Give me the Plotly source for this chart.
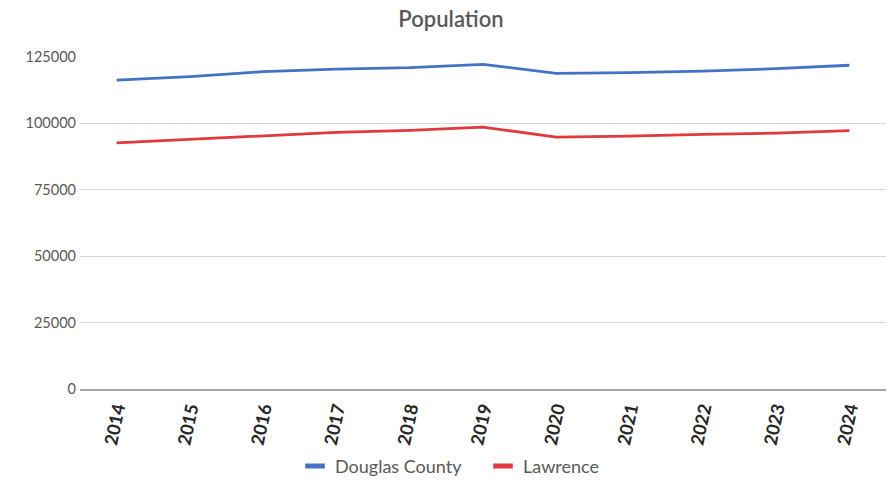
import plotly.graph_objects as go

years = ["2014", "2015", "2016", "2017", "2018", "2019", "2020", "2021", "2022", "2023", "2024"]
douglas_county = [116300, 117600, 119500, 120400, 121000, 122250, 118850, 119100, 119700, 120600, 121900]
lawrence = [92700, 94000, 95500, 96600, 97400, 98600, 94850, 95200, 95850, 96350, 97250]
y_ticks = [0, 25000, 50000, 75000, 100000, 125000]

series = [("Douglas County", douglas_county, "#4472C4"),
          ("Lawrence", lawrence, "#E0393E")]

font_family = "Lato, 'Open Sans', sans-serif"
text_grey = "#595959"

fig = go.Figure()
for name, values, color in series:
    fig.add_trace(go.Scatter(
        x=years, y=values, name=name, mode="lines",
        line=dict(color=color, width=2.8), showlegend=False,
    ))
# short thick legend keys
for name, values, color in series:
    fig.add_trace(go.Scatter(
        x=[None], y=[None], name=name, mode="markers",
        marker=dict(symbol="line-ew", size=14, color=color,
                    line=dict(color=color, width=5)),
        showlegend=True,
    ))

fig.update_layout(
    width=893, height=483,
    margin=dict(l=80, r=7, t=57, b=94, autoexpand=False),
    paper_bgcolor="white", plot_bgcolor="white",
    font=dict(family=font_family, color=text_grey, size=14),
    title=dict(text="Population", x=0.505, xanchor="center", y=0.96, yanchor="middle",
               font=dict(size=22, color=text_grey, family=font_family, weight=600)),
    showlegend=True,
    legend=dict(orientation="h", x=0.5, xanchor="center", y=-0.233, yanchor="middle",
                font=dict(size=18, color=text_grey), traceorder="normal",
                itemsizing="trace", entrywidth=143, entrywidthmode="pixels"),
    xaxis=dict(
        type="category", categoryorder="array", categoryarray=years,
        range=[-0.5, len(years) - 0.5],
        showgrid=False, showline=True, linecolor="#A6A6A6", linewidth=2,
        ticks="", tickangle=-78, automargin=False,
        tickfont=dict(size=18, color="#262626", family=font_family, weight="bold"),
        fixedrange=True,
    ),
    yaxis=dict(
        range=[0, 125000], tickvals=y_ticks, ticktext=[str(v) for v in y_ticks],
        showgrid=True, gridcolor="#D9D9D9", gridwidth=1.2,
        zeroline=False, showline=False, ticks="", automargin=False,
        ticklabelstandoff=3,
        tickfont=dict(size=14.5, color=text_grey),
        fixedrange=True,
    ),
)

fig.write_html("out.html")
